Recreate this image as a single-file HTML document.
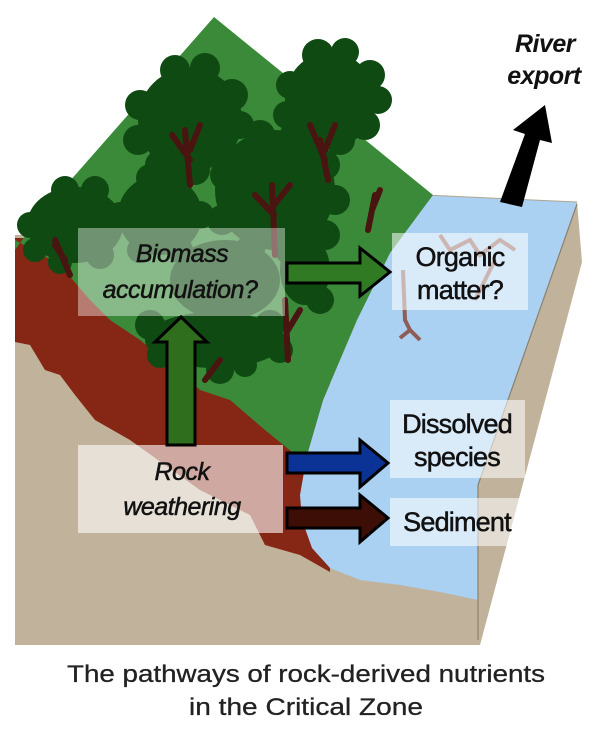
<!DOCTYPE html>
<html><head><meta charset="utf-8"><style>
html,body{margin:0;padding:0;background:#fff;}
svg{display:block;}
text{font-family:"Liberation Sans",Arial,sans-serif;}
</style></head><body>
<svg width="600" height="729" viewBox="0 0 600 729" xmlns="http://www.w3.org/2000/svg">
<polygon points="15,235 480,235 480,645 15,645" fill="#c0b29b"/>
<polygon points="577,202 582,262 480,645 478,485" fill="#c0b29b"/>
<path d="M15,238 L330,238 L330,572 L300,555 L265,545 L250,515 L200,490 L165,465 L130,440 L95,420 L75,395 L60,375 L45,370 L30,345 L15,342 Z" fill="#862614"/>
<path d="M425,195 L577,202 L478,485 L478,600 L440,592 L400,585 L360,580 L330,568 L312,548 L302,520 L300,495 L307,455 L323,400 L357,320 L390,253 Z" fill="#aad0f2"/>
<line x1="577" y1="204" x2="478" y2="485" stroke="#8a8070" stroke-width="1.2"/>
<line x1="478" y1="485" x2="478" y2="640" stroke="#8a8070" stroke-width="1.2"/>
<line x1="425" y1="195" x2="577" y2="202" stroke="#b0a590" stroke-width="1"/>
<path d="M15,250 L40,215 L214,17 L433,195 L390,253 L357,320 L323,400 L307,455 L292,452 L265,430 L230,400 L200,390 L175,368 L140,340 L110,320 L90,300 L60,265 L15,240 Z" fill="#3a8a3a"/>
<!-- tree crowns -->
<g fill="#0f4a12">
<!-- top right tree -->
<ellipse cx="330" cy="100" rx="45" ry="48"/>
<circle cx="318" cy="55" r="16"/><circle cx="345" cy="52" r="14"/><circle cx="370" cy="75" r="15"/><circle cx="378" cy="100" r="14"/><circle cx="365" cy="125" r="15"/><circle cx="340" cy="140" r="15"/><circle cx="305" cy="140" r="15"/><circle cx="287" cy="115" r="14"/><circle cx="290" cy="85" r="14"/>
<!-- upper left tree -->
<ellipse cx="190" cy="120" rx="52" ry="52"/>
<circle cx="175" cy="70" r="15"/><circle cx="205" cy="68" r="15"/><circle cx="232" cy="95" r="16"/><circle cx="240" cy="125" r="14"/><circle cx="225" cy="155" r="15"/><circle cx="195" cy="170" r="15"/><circle cx="160" cy="165" r="15"/><circle cx="138" cy="140" r="15"/><circle cx="140" cy="105" r="15"/>
<!-- middle tree -->
<ellipse cx="275" cy="190" rx="60" ry="60"/>
<circle cx="260" cy="135" r="15"/><circle cx="295" cy="135" r="15"/><circle cx="325" cy="165" r="15"/><circle cx="335" cy="200" r="15"/><circle cx="325" cy="235" r="15"/><circle cx="290" cy="250" r="15"/><circle cx="250" cy="250" r="15"/><circle cx="222" cy="220" r="15"/><circle cx="225" cy="175" r="15"/>
<!-- left tree -->
<ellipse cx="75" cy="225" rx="48" ry="38"/>
<circle cx="65" cy="190" r="14"/><circle cx="95" cy="190" r="14"/><circle cx="120" cy="215" r="13"/><circle cx="30" cy="225" r="13"/><circle cx="35" cy="250" r="12"/><circle cx="100" cy="255" r="14"/><circle cx="60" cy="262" r="12"/>
<!-- second left / center -->
<ellipse cx="160" cy="215" rx="42" ry="40"/>
<circle cx="150" cy="178" r="14"/><circle cx="180" cy="180" r="14"/><circle cx="200" cy="215" r="14"/><circle cx="125" cy="215" r="13"/><circle cx="140" cy="250" r="13"/><circle cx="180" cy="250" r="13"/>
<!-- low crowns -->
<ellipse cx="215" cy="340" rx="70" ry="28"/>
<circle cx="150" cy="325" r="15"/><circle cx="160" cy="355" r="13"/><circle cx="270" cy="325" r="15"/><circle cx="280" cy="350" r="13"/><circle cx="220" cy="370" r="14"/><circle cx="245" cy="365" r="12"/>
<ellipse cx="225" cy="280" rx="55" ry="40"/>
<ellipse cx="305" cy="270" rx="25" ry="35"/>
<circle cx="320" cy="300" r="14"/>
</g>
<g stroke="#4a1410" stroke-width="6" fill="none" stroke-linecap="round">
<path d="M185,130 L190,185 M190,160 L172,135 M190,150 L200,125"/>
<path d="M320,140 L328,180 M325,160 L310,125 M325,150 L335,125"/>
<path d="M272,185 L275,255 M274,215 L255,195 M274,205 L290,185"/>
<path d="M285,300 L288,360 M288,330 L300,310"/>
<path d="M55,240 L70,275 M65,260 L55,245"/>
<path d="M375,195 L368,230 M372,210 L380,190"/>
<path d="M220,360 L205,380"/>
</g>
<g stroke="#8a4a3a" stroke-width="4" fill="none" opacity="0.85">
<path d="M403,270 L405,320 L410,330 M410,330 L420,340 M410,330 L400,338"/>
<path d="M440,235 L450,250 L470,240 L480,255 L500,240 L515,250 M495,260 L480,290 L475,300"/>
</g>
<rect x="78" y="228" width="207" height="88" fill="#ffffff" opacity="0.4"/>
<rect x="78" y="445" width="205" height="88" fill="#ffffff" opacity="0.6"/>
<rect x="392" y="233" width="136" height="77" fill="#ffffff" opacity="0.55"/>
<rect x="390" y="400" width="135" height="78" fill="#ffffff" opacity="0.55"/>
<rect x="390" y="498" width="132" height="48" fill="#ffffff" opacity="0.55"/>
<polygon points="287,263 360,263 360,248 390,272 360,296 360,283 287,283" fill="#2f7a23" stroke="#000" stroke-width="3"/>
<polygon points="287,453 360,453 360,440 388,463 360,487 360,473 287,473" fill="#0b3396" stroke="#000" stroke-width="3"/>
<polygon points="287,508 360,508 360,495 388,518 360,542 360,528 287,528" fill="#3d0e06" stroke="#000" stroke-width="3"/>
<polygon points="167,445 195,445 195,342 207,342 181,317 155,342 167,342" fill="#2f6e1c" stroke="#000" stroke-width="3"/>
<polygon points="500,202 522,207 540,140 552,143 545,105 513,130 525,134" fill="#000"/>
<g font-style="italic" font-size="25" fill="#111" stroke="#111" stroke-width="0.5" text-anchor="middle" letter-spacing="-0.5">
<text x="182" y="262">Biomass</text>
<text x="180" y="298">accumulation?</text>
<text x="182" y="480">Rock</text>
<text x="182" y="515">weathering</text>
<text x="545" y="52" font-weight="bold" font-size="25" stroke-width="0">River</text>
<text x="544" y="84" font-weight="bold" font-size="25" stroke-width="0">export</text>
</g>
<g font-size="27" fill="#111" stroke="#111" stroke-width="0.5" text-anchor="middle" letter-spacing="-0.8">
<text x="460" y="266">Organic</text>
<text x="460" y="299">matter?</text>
<text x="457" y="433">Dissolved</text>
<text x="457" y="466">species</text>
<text x="457" y="531">Sediment</text>
</g>
<g font-size="24" fill="#222" stroke="#222" stroke-width="0.3" text-anchor="middle">
<text x="306" y="682" textLength="478" lengthAdjust="spacingAndGlyphs">The pathways of rock-derived nutrients</text>
<text x="306" y="715" textLength="234" lengthAdjust="spacingAndGlyphs">in the Critical Zone</text>
</g>
</svg>
</body></html>
